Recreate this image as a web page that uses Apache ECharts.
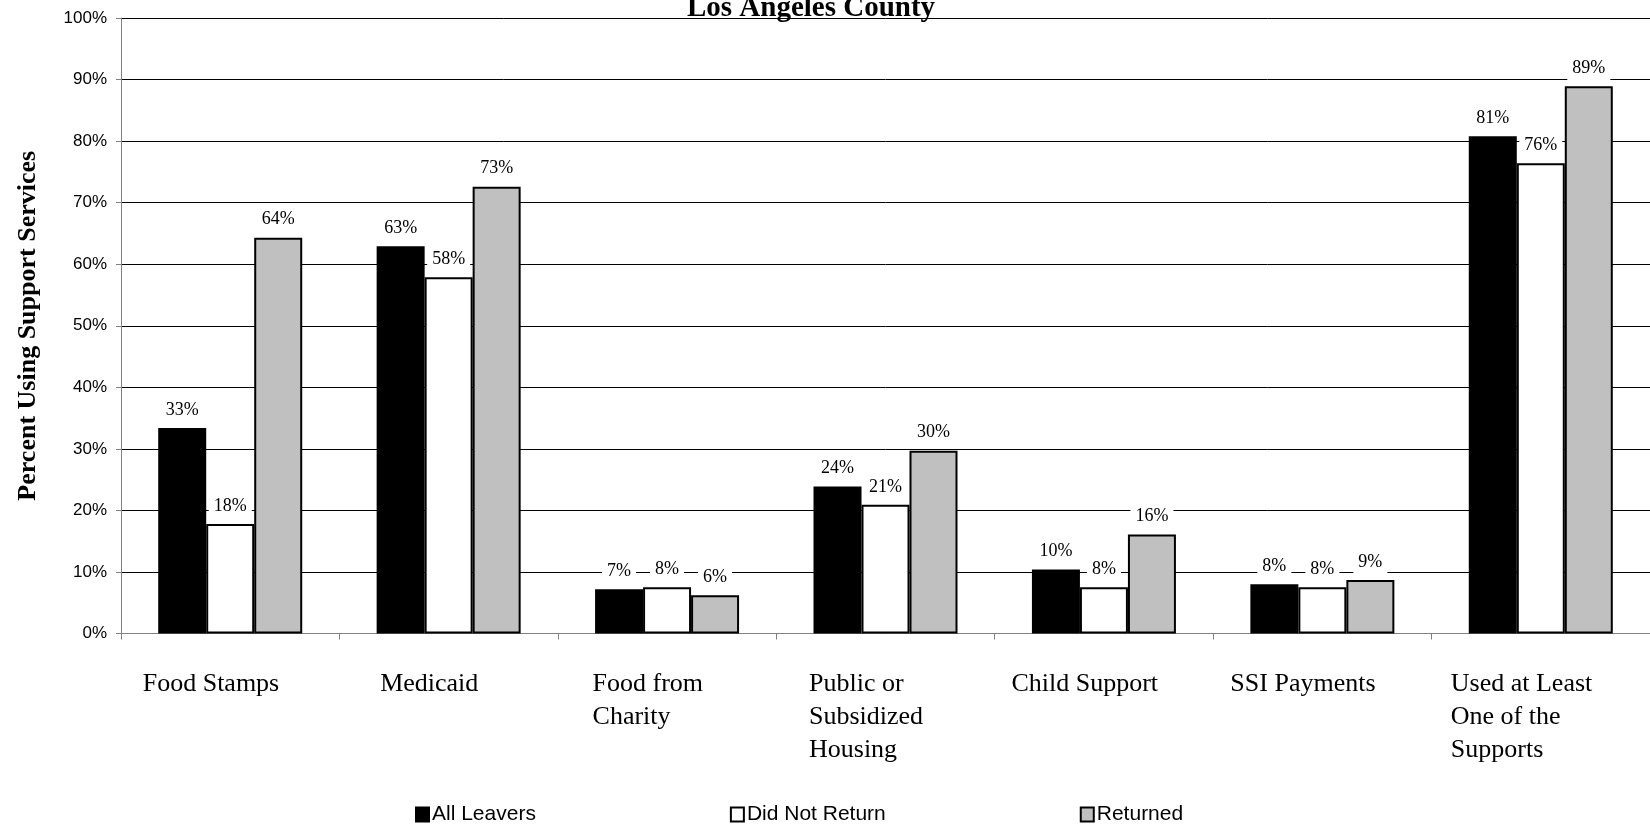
<!DOCTYPE html>
<html>
<head>
<meta charset="utf-8">
<script src="https://cdn.jsdelivr.net/npm/echarts@6/dist/echarts.min.js"></script>
<style>
  html, body { margin: 0; padding: 0; background: #fff; }
  #chart { width: 1650px; height: 825px; }
</style>
</head>
<body>
<div id="chart"></div>
<script>
// Support services used by leavers, by return status (percent)
const categories = [
  'Food Stamps',
  'Medicaid',
  'Food from\nCharity',
  'Public or\nSubsidized\nHousing',
  'Child Support',
  'SSI Payments',
  'Used at Least\nOne of the\nSupports'
];
const allLeavers   = [33.4, 62.9, 7.2, 23.9, 10.4, 8.0, 80.8];
const didNotReturn = [17.8, 57.9, 7.5, 20.9, 7.5, 7.5, 76.4];
const returned     = [64.3, 72.6, 6.2, 29.7, 16.1, 8.7, 88.9];

const SERIF = '"Liberation Serif", "Times New Roman", serif';
const SANS = '"Liberation Sans", Arial, sans-serif';
const CAT_FONT_SIZE = 26;

// Multi-line category names are left-aligned inside a block as wide as
// their longest line; the block sits slightly left of the category centre.
const measureCtx = document.createElement('canvas').getContext('2d');
measureCtx.font = CAT_FONT_SIZE + 'px ' + SERIF;
const catRich = {};
categories.forEach((c, i) => {
  const w = Math.max(...c.split('\n').map(l => measureCtx.measureText(l).width));
  catRich['c' + i] = {
    width: Math.ceil(w) + 2,
    align: 'left',
    padding: [0, 36, 0, 0],
    fontFamily: SERIF,
    fontSize: CAT_FONT_SIZE,
    lineHeight: 33,
    color: '#000'
  };
});

function barSeries(name, data, fill) {
  return {
    name: name,
    type: 'bar',
    data: data,
    barWidth: 48,
    barGap: '0%',
    itemStyle: { color: fill, borderColor: '#000', borderWidth: 2 },
    label: {
      show: true,
      position: 'top',
      distance: 3,
      formatter: p => Math.round(p.value) + '%',
      fontFamily: SERIF,
      fontSize: 18,
      color: '#000',
      backgroundColor: '#fff',
      padding: [6, 5, 6, 5]
    }
  };
}

const chart = echarts.init(document.getElementById('chart'), null, { renderer: 'canvas' });
chart.setOption({
  animation: false,
  backgroundColor: '#fff',
  title: {
    text: 'Los Angeles County',
    left: 806,
    top: -11,
    textAlign: 'center',
    textStyle: { fontFamily: SERIF, fontWeight: 'bold', fontSize: 29, color: '#000' }
  },
  legend: {
    left: 410,
    top: 799,
    itemGap: 194,
    itemWidth: 13,
    itemHeight: 14,
    icon: 'rect',
    textStyle: { fontFamily: SANS, fontSize: 21, color: '#000', padding: [0, 0, 0, -2] },
    data: ['All Leavers', 'Did Not Return', 'Returned']
  },
  grid: { left: 121, right: -5, top: 18, bottom: 191.5, containLabel: false },
  xAxis: {
    type: 'category',
    data: categories,
    axisLine: { lineStyle: { color: '#808080', width: 1 } },
    axisTick: { show: true, length: 6, lineStyle: { color: '#808080' } },
    axisLabel: {
      interval: 0,
      margin: 34,
      formatter: (v, i) => v.split('\n').map(l => '{c' + i + '|' + l + '}').join('\n'),
      rich: catRich
    }
  },
  yAxis: {
    type: 'value',
    min: 0,
    max: 100,
    interval: 10,
    name: 'Percent Using Support Services',
    nameLocation: 'middle',
    nameGap: 80,
    nameRotate: 90,
    nameTextStyle: { fontFamily: SERIF, fontWeight: 'bold', fontSize: 26, color: '#000' },
    axisLine: { show: true, lineStyle: { color: '#808080', width: 1 } },
    axisTick: { show: true, length: 5, lineStyle: { color: '#808080' } },
    axisLabel: {
      formatter: '{value}%',
      margin: 14,
      fontFamily: SANS,
      fontSize: 17,
      color: '#000'
    },
    splitLine: { show: true, lineStyle: { color: '#000', width: 1 } }
  },
  series: [
    barSeries('All Leavers', allLeavers, '#000000'),
    barSeries('Did Not Return', didNotReturn, '#ffffff'),
    barSeries('Returned', returned, '#c0c0c0')
  ]
});
</script>
</body>
</html>
